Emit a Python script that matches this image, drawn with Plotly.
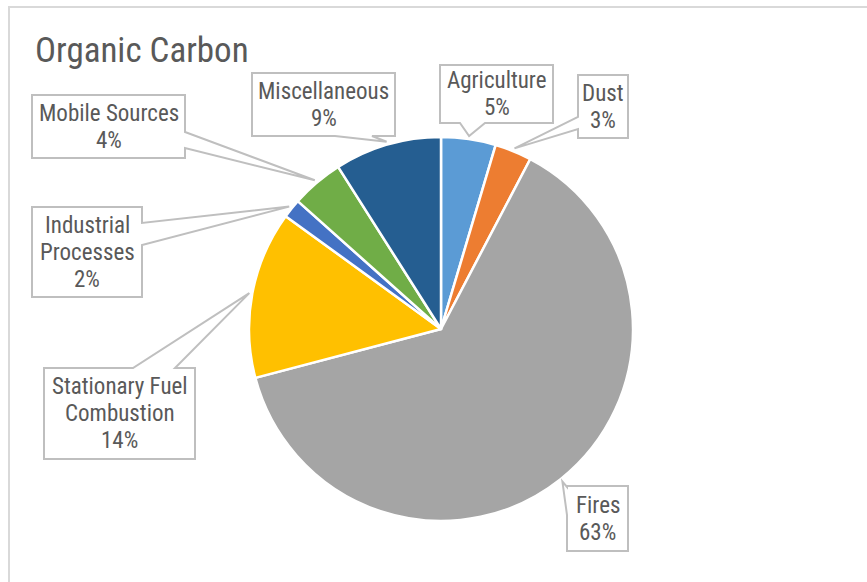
import math
import plotly.graph_objects as go

# ---- data ----
categories = ["Agriculture", "Dust", "Fires", "Stationary Fuel Combustion",
              "Industrial Processes", "Mobile Sources", "Miscellaneous"]
label_lines = [["Agriculture"], ["Dust"], ["Fires"], ["Stationary Fuel", "Combustion"],
               ["Industrial", "Processes"], ["Mobile Sources"], ["Miscellaneous"]]
values = [4.6, 3.1, 63.2, 14.1, 1.6, 4.4, 9.0]
colors = ["#5B9BD5", "#ED7D31", "#A5A5A5", "#FFC000", "#4472C4", "#70AD47", "#255E91"]

# ---- layout constants (pixels) ----
W, H = 867, 582
CX, CY, R = 441, 329, 192
FONT = "Liberation Sans Narrow, Arial Narrow, Roboto Condensed, Liberation Sans, Arial"
TXT = "#595959"
LINE_H = 27

# callout boxes: (x0, y0, x1, y1, edge, base0, base1)
boxes = [
    (440, 65, 553, 123, "bottom", 460, 485),
    (578, 75, 628, 138, "left", 117, 129),
    (567, 486, 628, 551, "left", 487, 515),
    (44, 368, 195, 459, "top", 133, 175),
    (32, 207, 142, 297, "right", 223, 245),
    (32, 95, 185, 158, "right", 132, 148),
    (252, 73, 395, 136, "bottom", 335, 372),
]

fig = go.Figure()
fig.add_trace(go.Pie(
    labels=categories, values=values, sort=False, direction="clockwise", rotation=0,
    marker=dict(colors=colors, line=dict(color="white", width=2.5)),
    textinfo="none", hoverinfo="skip", showlegend=False,
    domain=dict(x=[(CX - R) / W, (CX + R) / W], y=[1 - (CY + R) / H, 1 - (CY - R) / H]),
))

shapes = []
annotations = []
total = sum(values)
cum = 0.0
for i, v in enumerate(values):
    mid = (cum + v / 2) / total * 2 * math.pi
    cum += v
    tx = CX + (R + 3) * math.sin(mid)
    ty = CY - (R + 3) * math.cos(mid)
    x0, y0, x1, y1, edge, b0, b1 = boxes[i]
    if edge == "bottom":
        pts = [(x0, y0), (x1, y0), (x1, y1), (b1, y1), (tx, ty), (b0, y1), (x0, y1)]
    elif edge == "top":
        pts = [(x0, y0), (b0, y0), (tx, ty), (b1, y0), (x1, y0), (x1, y1), (x0, y1)]
    elif edge == "right":
        pts = [(x0, y0), (x1, y0), (x1, b0), (tx, ty), (x1, b1), (x1, y1), (x0, y1)]
    else:  # left
        pts = [(x0, y0), (x1, y0), (x1, y1), (x0, y1), (x0, b1), (tx, ty), (x0, b0)]
    path = "M " + " L ".join(f"{px:.1f},{py:.1f}" for px, py in pts) + " Z"
    shapes.append(dict(type="path", path=path, xref="x", yref="y",
                       line=dict(color="#BFBFBF", width=2), fillcolor="white", layer="above"))
    lines = label_lines[i] + [f"{round(v)}%"]
    cy = (y0 + y1) / 2
    n = len(lines)
    for j, t in enumerate(lines):
        annotations.append(dict(
            x=(x0 + x1) / 2, y=cy + (j - (n - 1) / 2) * LINE_H, xref="x", yref="y",
            text=t, showarrow=False, xanchor="center", yanchor="middle",
            font=dict(family=FONT, size=23, color=TXT)))

# chart border (top & left visible)
shapes.append(dict(type="rect", xref="x", yref="y", x0=9, y0=7, x1=W + 20, y1=H + 20,
                   line=dict(color="#D9D9D9", width=2), fillcolor="rgba(0,0,0,0)", layer="below"))

annotations.append(dict(
    x=33, y=50, xref="x", yref="y", text="Organic Carbon", showarrow=False,
    xanchor="left", yanchor="middle", font=dict(family=FONT, size=35, color=TXT)))

fig.update_layout(
    width=W, height=H, margin=dict(l=0, r=0, t=0, b=0),
    paper_bgcolor="white", plot_bgcolor="rgba(0,0,0,0)",
    xaxis=dict(range=[0, W], visible=False, fixedrange=True),
    yaxis=dict(range=[H, 0], visible=False, fixedrange=True),
    shapes=shapes, annotations=annotations, showlegend=False,
)

fig.write_html("out.html")
